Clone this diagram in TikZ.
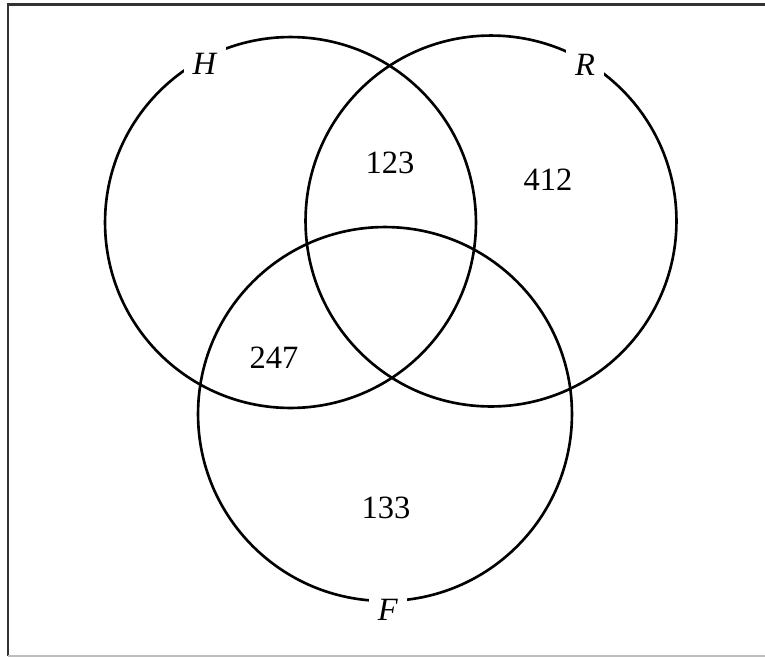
\documentclass[tikz,border=0pt]{standalone}
\usepackage{fontspec}
\setmainfont{Liberation Serif}
\begin{document}
\begin{tikzpicture}[x=0.02cm, y=-0.02cm, line width=1.5pt,
    font=\fontsize{18.5}{20}\selectfont]
\useasboundingbox (0,0) rectangle (765,657);

    % Frame
    \draw[line width=1.7pt, black!80] (765,4) -- (8,4) -- (8,656);
    \draw[line width=0.8pt, black!25] (8,656) -- (765,656);

    % Sets
    \node[draw, circle, minimum size=7.42cm, inner sep=0pt] (h) at (290.5,222.5) {};
    \node[draw, circle, minimum size=7.42cm, inner sep=0pt] (r) at (491,221) {};
    \node[draw, circle, minimum size=7.48cm, inner sep=0pt] (f) at (385,414) {};

    % Set labels
    \node[fill=white, inner sep=5pt] (hl) at (205,64) {\textit{H}};
    \node[fill=white, inner sep=5pt] (rl) at (585,65) {\textit{R}};
    \node[fill=white, inner sep=5pt] (fl) at (388,610) {\textit{F}};

    % Counts
    \node (hr) at (390,163) {123};
    \node (ro) at (548,180) {412};
    \node (hf) at (274,358) {247};
    \node (fo) at (386,508) {133};

\end{tikzpicture}
\end{document}
